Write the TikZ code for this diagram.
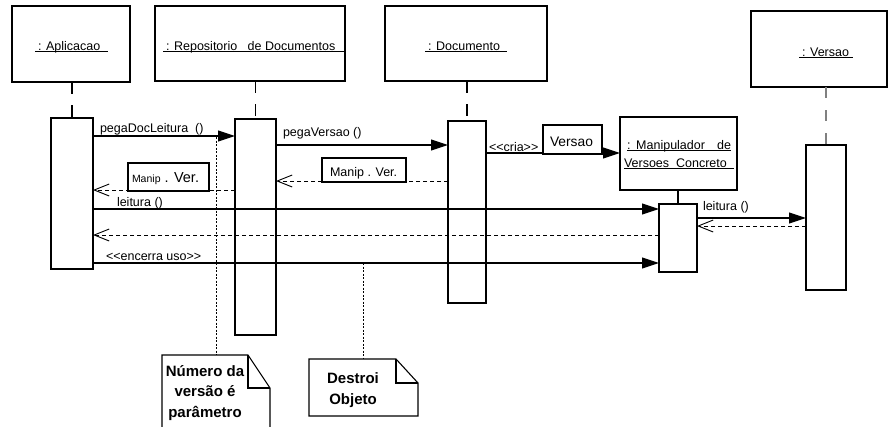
\documentclass[tikz,border=0pt]{standalone}
\usepackage{fontspec}
\setmainfont{Liberation Sans}[Ligatures=TeXOff]
\usetikzlibrary{arrows.meta}
\newcommand{\ulx}[1]{\setbox0\hbox{#1}\rlap{\rule[-2.2pt]{\wd0}{0.75pt}}\box0}
\newcommand{\ulbox}[2]{\ulx{\makebox[#1][l]{\hspace{3pt}#2}}}
\begin{document}
\begin{tikzpicture}[x=1pt,y=-1pt,
  obj/.style={draw=black,line width=1.1pt,fill=white,inner sep=0pt,outer sep=0pt,anchor=north west},
  lbl/.style={inner sep=0pt,outer sep=0pt,font=\fontsize{12.5}{15}\selectfont},
  msg/.style={line width=1.1pt,-{Triangle[length=17pt,width=11pt]}},
  ret/.style={line width=0.9pt,dash pattern=on 4pt off 3pt,-{Straight Barb[length=15pt,width=12pt,line width=0.9pt]}},
  life/.style={line width=1.1pt,dash pattern=on 12pt off 11pt},
  notelink/.style={line width=0.8pt,dash pattern=on 2pt off 1.5pt},
  notetxt/.style={font=\fontsize{15}{20.5}\selectfont\bfseries,align=center,inner sep=0pt},
  notebox/.style={draw=black,line width=1.1pt,fill=white}
]
\useasboundingbox (0,0) rectangle (888,426);

% object boxes
\node[obj,minimum width=118pt,minimum height=76pt] (apl) at (12,6) {};
\node[obj,minimum width=190pt,minimum height=75pt] (rep) at (155,6) {};
\node[obj,minimum width=162pt,minimum height=75pt] (doc) at (385,6) {};
\node[obj,minimum width=136pt,minimum height=76pt] (ver) at (751,11) {};
\node[obj,minimum width=117pt,minimum height=73pt] (man) at (620,117) {};

\node[lbl,anchor=base west] (aplt) at (35,50) {\ulbox{73pt}{: Aplicacao}};
\node[lbl,anchor=base west] (rept) at (163,50) {\ulbox{182pt}{: Repositorio\ \ \ de Documentos}};
\node[lbl,anchor=base west] (doct) at (425,50) {\ulbox{82pt}{: Documento}};
\node[lbl,anchor=base west] (vert) at (799,56) {\ulbox{54pt}{: Versao}};
\node[lbl,anchor=base west] (mant1) at (627,149) {\ulx{\makebox[104pt][s]{: Manipulador\ \ \ de}}};
\node[lbl,anchor=base west] (mant2) at (624,167) {\ulx{\makebox[110pt][l]{Versoes\ \ Concreto}}};

% activation bars
\node[obj,minimum width=42pt,minimum height=151pt] (aA) at (51,118) {};
\node[obj,minimum width=41pt,minimum height=216pt] (aR) at (235,119) {};
\node[obj,minimum width=38pt,minimum height=182pt] (aD) at (448,121) {};
\node[obj,minimum width=38pt,minimum height=68pt] (aM) at (659,204) {};
\node[obj,minimum width=40pt,minimum height=145pt] (aV) at (806,145) {};

% lifelines
\draw[life] (aA.north |- apl.south) -- (aA.north);
\draw[life] (aR.north |- rep.south) -- (aR.north);
\draw[life] (aD.north |- doc.south) -- (aD.north);
\draw[life,draw=gray,dash pattern=on 11pt off 12pt] (aV.north |- ver.south) -- (aV.north);
\draw[line width=1.1pt] (aM.north |- man.south) -- (aM.north);

% Versao created object
\node[obj,minimum width=59pt,minimum height=29pt] (vb) at (543,125) {};
\node[lbl,anchor=base west,font=\fontsize{13.8}{16}\selectfont] (vbt) at (550,146) {Versao};

% messages
\draw[msg] (aA.east |- 0,136) -- (aR.west |- 0,136);
\node[lbl,anchor=base west] (m1) at (100,132) {pegaDocLeitura\ \ ()};
\draw[msg] (aR.east |- 0,145) -- (aD.west |- 0,145);
\node[lbl,anchor=base west] (m2) at (283,136) {pegaVersao ()};
\draw[ret] (aD.west |- 0,181) -- (aR.east |- 0,181);
\draw[ret] (aR.west |- 0,190) -- (aA.east |- 0,190);
\draw[msg] (aA.east |- 0,209) -- (aM.west |- 0,209);
\node[lbl,anchor=base west] (m5) at (117,206) {leitura ()};
\draw[ret] (aM.west |- 0,235) -- (aA.east |- 0,235);
\draw[msg] (aA.east |- 0,263) -- (aM.west |- 0,263);
\node[lbl,anchor=base west] (m7) at (106,260) {<<encerra uso>>};
\draw[line width=1.1pt] (aD.east |- 0,153) -- (vb.west |- 0,153);
\node[lbl,anchor=base west] (m8) at (489,151) {<<cria>>};
\draw[msg] (vb.east |- 0,153) -- (man.west |- 0,153);
\draw[msg] (aM.east |- 0,218) -- (aV.west |- 0,218);
\node[lbl,anchor=base west] (m9) at (703,210) {leitura ()};
\draw[ret] (aV.west |- 0,226) -- (aM.east |- 0,226);

% return value boxes
\node[obj,minimum width=81pt,minimum height=28pt] (mv1) at (128,163) {};
\node[lbl,anchor=base west] (mv1t) at (132,182) {{\fontsize{10.5}{12}\selectfont Manip}{\fontsize{14.5}{16}\selectfont\ . Ver.}};
\node[obj,minimum width=84pt,minimum height=24pt] (mv2) at (322,158) {};
\node[lbl,anchor=base west] (mv2t) at (330,176) {Manip . Ver.};

% notes
\coordinate (n1s) at (216,137);
\coordinate (n1e) at (216,355);
\coordinate (n2s) at (363,263);
\coordinate (n2e) at (363,359);
\draw[notelink] (n1s) -- (n1e);
\draw[notelink] (n2s) -- (n2e);
\draw[notebox] (162,428) -- (162,355) -- (248,355) -- (270,388) -- (270,428);
\draw[line width=1.1pt] (248,355) -- (248,388) -- (270,388);
\draw[notebox] (309,359) -- (396,359) -- (418,383) -- (418,416) -- (309,416) -- cycle;
\draw[line width=1.1pt] (396,359) -- (396,383) -- (418,383);
\node[notetxt] (n1t) at (205,393) {Número da\\versão é\\parâmetro};
\node[notetxt] (n2t) at (353,390) {Destroi\\Objeto};
\end{tikzpicture}
\end{document}
